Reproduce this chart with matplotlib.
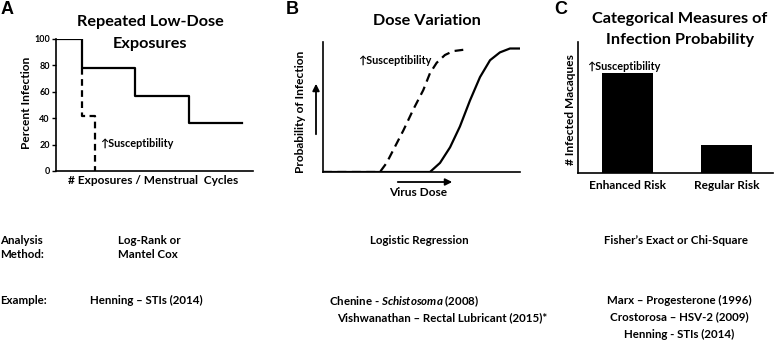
import matplotlib
matplotlib.use("Agg")
from matplotlib import pyplot as plt
from matplotlib.patches import FancyArrowPatch

plt.rcParams['font.family'] = ['Lato', 'DejaVu Sans']
plt.rcParams['font.weight'] = 'bold'
plt.rcParams['mathtext.fontset'] = 'custom'
plt.rcParams['mathtext.it'] = 'Lato:italic:bold'

W, H = 776, 341

# panel A - step curves (percent infection vs exposures)
a_solid_x = [0, 1.6, 1.6, 4.8, 4.8, 8.1, 8.1, 11.3]
a_solid_y = [100, 100, 78, 78, 57, 57, 36, 36]
a_dash_x = [1.6, 1.6, 2.4, 2.4]
a_dash_y = [78, 42, 42, 0]
a_yticks = [0, 20, 40, 60, 80, 100]

# panel B - dose response curves
b_solid_x = [0, 5.43, 5.94, 6.45, 6.95, 7.46, 7.97, 8.48, 8.98, 9.49, 10.0]
b_solid_y = [0, 0, 0.07, 0.19, 0.35, 0.55, 0.73, 0.86, 0.92, 0.95, 0.95]
b_dash_x = [0, 2.89, 3.23, 3.57, 4.08, 4.58, 5.09, 5.43, 5.77, 6.19, 6.61, 7.12]
b_dash_y = [0, 0, 0.07, 0.17, 0.32, 0.48, 0.63, 0.76, 0.84, 0.90, 0.93, 0.94]

# panel C - bars
c_labels = ["Enhanced Risk", "Regular Risk"]
c_values = [76, 21]


def fx(px):
    return px / W


def fy(py):
    return 1 - py / H


def rect(left, top, right, bottom):
    return [fx(left), fy(bottom), (right - left) / W, (bottom - top) / H]


fig = plt.figure(figsize=(W / 100, H / 100), dpi=100)
renderer = fig.canvas.get_renderer()


def fit(text, target_px, **kw):
    # font size that makes text about target_px wide
    t = fig.text(0, 0, text, fontsize=10, **kw)
    w = t.get_window_extent(renderer=renderer).width
    t.remove()
    return 10 * target_px / w


title_fs = fit("Dose Variation", 108)
label_fs = fit("Percent Infection", 92)
sus_fs = fit("\u2191Susceptibility", 73)
body_fs = fit("Logistic Regression", 98)

spine_lw = 1.2
line_lw = 1.6

# ---- panel A
axA = fig.add_axes(rect(56, 39, 253, 171))
axA.plot(a_solid_x, a_solid_y, color="black", lw=line_lw)
axA.plot(a_dash_x, a_dash_y, color="black", lw=line_lw, ls=(0, (3, 2)))
axA.set_xlim(0, 12)
axA.set_ylim(0, 100)
axA.set_yticks(a_yticks)
axA.set_yticklabels([str(v) for v in a_yticks], fontsize=6.5, fontweight="bold")
axA.set_xticks([])
axA.tick_params(axis="y", length=3, width=1, pad=1.5)
for s in ["top", "right"]:
    axA.spines[s].set_visible(False)
for s in ["left", "bottom"]:
    axA.spines[s].set_linewidth(spine_lw)
axA.text(2.68, 21, "\u2191Susceptibility", fontsize=sus_fs, va="center", ha="left")

fig.text(fx(150), fy(22), "Repeated Low-Dose", fontsize=title_fs,
         ha="center", va="center")
fig.text(fx(150), fy(44), "Exposures", fontsize=title_fs,
         ha="center", va="center")
fig.text(fx(27), fy(103), "Percent Infection", fontsize=label_fs,
         rotation=90, ha="center", va="center")
fig.text(fx(153), fy(181), "# Exposures / Menstrual  Cycles", fontsize=label_fs,
         ha="center", va="center")

# ---- panel B
axB = fig.add_axes(rect(323, 42, 520, 172))
axB.plot(b_solid_x, b_solid_y, color="black", lw=line_lw)
axB.plot(b_dash_x, b_dash_y, color="black", lw=line_lw, ls=(0, (4, 2.5)))
axB.set_xlim(0, 10)
axB.set_ylim(0, 1)
axB.set_xticks([])
axB.set_yticks([])
for s in ["top", "right"]:
    axB.spines[s].set_visible(False)
for s in ["left", "bottom"]:
    axB.spines[s].set_linewidth(spine_lw)
axB.text(1.78, 0.86, "\u2191Susceptibility", fontsize=sus_fs,
         va="center", ha="left")

fig.text(fx(427), fy(21), "Dose Variation", fontsize=title_fs,
         ha="center", va="center")
fig.text(fx(300), fy(112), "Probability of Infection", fontsize=label_fs,
         rotation=90, ha="center", va="center")
fig.text(fx(418), fy(192), "Virus Dose", fontsize=label_fs,
         ha="center", va="center")
fig.add_artist(FancyArrowPatch(
    (fx(316), fy(137)), (fx(316), fy(81)), transform=fig.transFigure,
    arrowstyle="-|>,head_length=4,head_width=2", lw=1.3, color="black"))
fig.add_artist(FancyArrowPatch(
    (fx(395), fy(182)), (fx(455), fy(182)), transform=fig.transFigure,
    arrowstyle="-|>,head_length=4,head_width=2", lw=1.3, color="black"))

# ---- panel C
axC = fig.add_axes(rect(578, 42, 773, 173))
axC.bar([0, 1], c_values, width=0.515, color="black")
axC.set_xlim(-0.5, 1.47)
axC.set_ylim(0, 100)
axC.set_yticks([])
axC.set_xticks([0, 1])
axC.set_xticklabels(c_labels, fontsize=label_fs, fontweight="bold")
axC.tick_params(axis="x", length=0, pad=5)
for s in ["top", "right"]:
    axC.spines[s].set_visible(False)
for s in ["left", "bottom"]:
    axC.spines[s].set_linewidth(spine_lw)
axC.text(-0.41, 81, "\u2191Susceptibility", fontsize=sus_fs,
         va="center", ha="left")

fig.text(fx(680), fy(19), "Categorical Measures of", fontsize=title_fs,
         ha="center", va="center")
fig.text(fx(680), fy(40), "Infection Probability", fontsize=title_fs,
         ha="center", va="center")
fig.text(fx(570), fy(110), "# Infected Macaques", fontsize=label_fs,
         rotation=90, ha="center", va="center")

# ---- panel letters
for lab, px in [("A", 1), ("B", 286), ("C", 554)]:
    fig.text(fx(px), fy(9), lab, fontsize=13, fontweight="bold",
             family="Liberation Sans", ha="left", va="center")

# ---- bottom table text
fig.text(fx(0), fy(240), "Analysis", fontsize=body_fs, ha="left", va="center")
fig.text(fx(0), fy(255), "Method:", fontsize=body_fs, ha="left", va="center")
fig.text(fx(118), fy(240), "Log-Rank or", fontsize=body_fs, ha="left", va="center")
fig.text(fx(118), fy(255), "Mantel Cox", fontsize=body_fs, ha="left", va="center")
fig.text(fx(419), fy(240), "Logistic Regression", fontsize=body_fs,
         ha="center", va="center")
fig.text(fx(676), fy(240), "Fisher\u2019s Exact or Chi-Square", fontsize=body_fs,
         ha="center", va="center")

fig.text(fx(0), fy(300), "Example:", fontsize=body_fs, ha="left", va="center")
fig.text(fx(90), fy(300), "Henning \u2013 STIs (2014)", fontsize=body_fs,
         ha="left", va="center")
fig.text(fx(404), fy(301), r"Chenine - $\it{Schistosoma}$ (2008)",
         fontsize=body_fs, ha="center", va="center")
fig.text(fx(442), fy(318), "Vishwanathan \u2013 Rectal Lubricant (2015)*",
         fontsize=body_fs, ha="center", va="center")
fig.text(fx(679), fy(300), "Marx \u2013 Progesterone (1996)", fontsize=body_fs,
         ha="center", va="center")
fig.text(fx(679), fy(317), "Crostorosa \u2013 HSV-2 (2009)", fontsize=body_fs,
         ha="center", va="center")
fig.text(fx(679), fy(334), "Henning - STIs (2014)", fontsize=body_fs,
         ha="center", va="center")

fig.savefig("out.png", dpi=100)
